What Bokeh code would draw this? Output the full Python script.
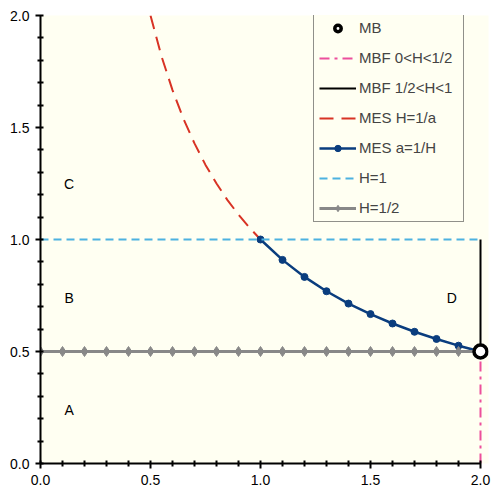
from bokeh.plotting import figure
from bokeh.models import Range1d, Legend, LegendItem, FixedTicker, Label, PrintfTickFormatter
from bokeh.embed import file_html
from bokeh.resources import INLINE

# ---- data ----
mes_h_a = [0.5, 0.55, 0.6, 0.65, 0.7, 0.75, 0.8, 0.85, 0.9, 0.95, 1.0]
mes_h_y = [2.0, 1.818, 1.667, 1.538, 1.429, 1.333, 1.25, 1.176, 1.111, 1.053, 1.0]

mes_a_a = [1.0, 1.1, 1.2, 1.3, 1.4, 1.5, 1.6, 1.7, 1.8, 1.9, 2.0]
mes_a_y = [1.0, 0.909, 0.833, 0.769, 0.714, 0.667, 0.625, 0.588, 0.556, 0.526, 0.5]

h1_x = [0.0, 2.0]
h1_y = [1.0, 1.0]

hhalf_x = [0.0, 0.1, 0.2, 0.3, 0.4, 0.5, 0.6, 0.7, 0.8, 0.9, 1.0,
           1.1, 1.2, 1.3, 1.4, 1.5, 1.6, 1.7, 1.8, 1.9, 2.0]
hhalf_y = [0.5] * 21

mbf_low_x = [2.0, 2.0]
mbf_low_y = [0.0, 0.5]
mbf_high_x = [2.0, 2.0]
mbf_high_y = [0.5, 1.0]

mb_x = [2.0]
mb_y = [0.5]

region_labels = ["A", "B", "C", "D"]
region_x = [0.13, 0.13, 0.13, 1.87]
region_y = [0.24, 0.74, 1.25, 0.74]

major_ticks = [0.0, 0.5, 1.0, 1.5, 2.0]
minor_ticks = [0.1, 0.2, 0.3, 0.4, 0.6, 0.7, 0.8, 0.9, 1.1, 1.2, 1.3, 1.4,
               1.6, 1.7, 1.8, 1.9]

BG = "#fffff2"
FONT = "Liberation Sans"

# frame: x 0..2 spans 440px, extended 8px to the right so marks at x=2 are not clipped
p = figure(width=491, height=490, output_backend="svg", toolbar_location=None,
           x_range=Range1d(0, 2.0 + 8 / 220), y_range=Range1d(0, 2),
           min_border_left=40, min_border_right=3, min_border_top=15,
           min_border_bottom=27)
p.background_fill_color = BG
p.border_fill_color = "white"
p.outline_line_color = None
p.grid.visible = False

for ax in (p.xaxis[0], p.yaxis[0]):
    ax.ticker = FixedTicker(ticks=major_ticks, minor_ticks=minor_ticks)
    ax.bounds = (0, 2)
    ax.axis_line_width = 2
    ax.axis_line_color = "black"
    ax.major_tick_line_width = 2
    ax.minor_tick_line_width = 2
    ax.major_tick_in = 3
    ax.major_tick_out = 5
    ax.minor_tick_in = 3
    ax.minor_tick_out = 3
    ax.major_label_text_font = FONT
    ax.major_label_text_font_size = "14px"
    ax.major_label_text_color = "black"
    ax.major_label_standoff = 6
    ax.formatter = PrintfTickFormatter(format="%.1f")

r_mbf_low = p.line(mbf_low_x, mbf_low_y, line_color="#ec4f9c", line_width=2,
                   line_dash="10 5 3 5")
r_mbf_high = p.line(mbf_high_x, mbf_high_y, line_color="black", line_width=2)
r_mes_h = p.line(mes_h_a, mes_h_y, line_color="#d83325", line_width=2,
                 line_dash="14 8")
r_mes_a_l = p.line(mes_a_a, mes_a_y, line_color="#0a3d7e", line_width=2.5)
r_mes_a_m = p.scatter(mes_a_a, mes_a_y, marker="circle", size=7,
                      fill_color="#0a3d7e", line_color="#0a3d7e")
r_h1 = p.line(h1_x, h1_y, line_color="#4db2e0", line_width=2, line_dash="8 5")
r_hh_l = p.line(hhalf_x, hhalf_y, line_color="#888888", line_width=3)
r_hh_m = p.scatter(hhalf_x, hhalf_y, marker="diamond", size=10,
                   fill_color="#888888", line_color="#888888")
r_mb = p.scatter(mb_x, mb_y, marker="circle", size=13, fill_color="white",
                 line_color="black", line_width=3.5)

for t, x, y in zip(region_labels, region_x, region_y):
    p.add_layout(Label(x=x, y=y, text=t, text_font=FONT, text_font_size="14px",
                       text_align="center", text_baseline="middle",
                       text_color="black"))

legend = Legend(items=[
    LegendItem(label="MB", renderers=[r_mb]),
    LegendItem(label="MBF 0<H<1/2", renderers=[r_mbf_low]),
    LegendItem(label="MBF 1/2<H<1", renderers=[r_mbf_high]),
    LegendItem(label="MES H=1/a", renderers=[r_mes_h]),
    LegendItem(label="MES a=1/H", renderers=[r_mes_a_l, r_mes_a_m]),
    LegendItem(label="H=1", renderers=[r_h1]),
    LegendItem(label="H=1/2", renderers=[r_hh_l, r_hh_m]),
], location=(273, 241))
legend.label_text_font = FONT
legend.label_text_font_size = "15px"
legend.glyph_width = 37
legend.glyph_height = 16
legend.label_height = 16
legend.label_width = 99
legend.label_standoff = 3
legend.spacing = 13
legend.padding = 5
legend.margin = 0
legend.border_line_color = "#222222"
legend.border_line_width = 1.3
legend.background_fill_color = BG
legend.background_fill_alpha = 1
p.add_layout(legend, "center")

open("out.html", "w").write(file_html(p, INLINE))
